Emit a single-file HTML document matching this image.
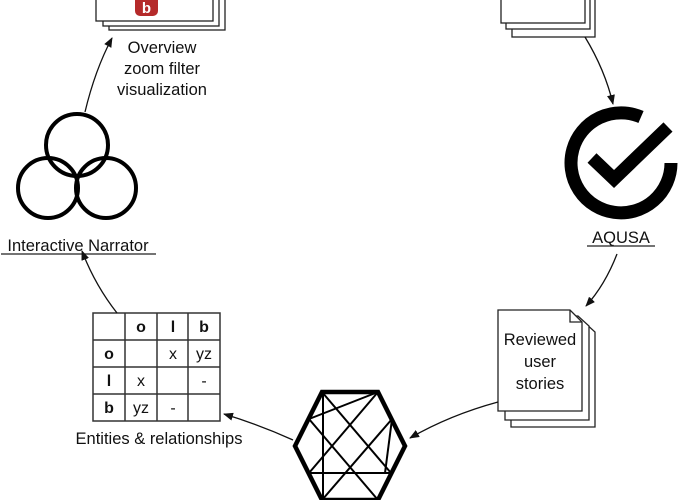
<!DOCTYPE html>
<html><head><meta charset="utf-8"><style>
html,body{margin:0;padding:0;background:#fff;}
svg{display:block;}
text{font-family:"Liberation Sans",sans-serif;fill:#111;}
</style></head><body>
<svg width="680" height="500" viewBox="0 0 680 500" xmlns="http://www.w3.org/2000/svg">
<defs>
<marker id="a" markerWidth="10" markerHeight="8" refX="9" refY="4" orient="auto" markerUnits="userSpaceOnUse">
<path d="M0,0 L10,4 L0,8 Z" fill="#111"/></marker>
</defs>
<g fill="#fff" stroke="#222" stroke-width="1.3">
<rect x="109" y="-10" width="116" height="40"/>
<rect x="103" y="-10" width="116" height="36"/>
<rect x="96" y="-10" width="117" height="31"/>
</g>
<rect x="135" y="-6" width="23" height="22" rx="5" fill="#b52a2a"/>
<text x="146.5" y="13" font-size="15" font-weight="bold" text-anchor="middle" style="fill:#fff">b</text>
<text x="162" y="53" font-size="16.5" text-anchor="middle">Overview</text>
<text x="162" y="74" font-size="16.5" text-anchor="middle">zoom filter</text>
<text x="162" y="95" font-size="16.5" text-anchor="middle">visualization</text>
<g fill="#fff" stroke="#222" stroke-width="1.3">
<rect x="512" y="-10" width="83" height="47"/>
<rect x="506" y="-10" width="84" height="39"/>
<rect x="501" y="-10" width="84" height="33"/>
</g>
<path d="M671,163 A50,50 0 1 1 641,117" fill="none" stroke="#000" stroke-width="13"/>
<path d="M592,158 L614,179 L668,127" fill="none" stroke="#000" stroke-width="13"/>
<text x="621" y="243" font-size="16.5" text-anchor="middle">AQUSA</text>
<line x1="587" y1="246" x2="655" y2="246" stroke="#222" stroke-width="1.2"/>
<g fill="none" stroke="#000" stroke-width="4">
<circle cx="77" cy="145" r="31"/>
<circle cx="48" cy="188" r="30"/>
<circle cx="106" cy="188" r="30"/>
</g>
<text x="78" y="251" font-size="16.5" text-anchor="middle">Interactive Narrator</text>
<line x1="1" y1="254" x2="156" y2="254" stroke="#222" stroke-width="1.2"/>
<g fill="#fff" stroke="#222" stroke-width="1.3">
<path d="M511,322 H584 L595,332 V427 H511 Z"/>
<path d="M505,316 H578 L589,326 V420 H505 Z"/>
<path d="M498,310 H570 L582,322 V411 H498 Z"/>
<path d="M570,310 V322 H582" fill="none"/>
</g>
<text x="540" y="345" font-size="16.5" text-anchor="middle">Reviewed</text>
<text x="540" y="367" font-size="16.5" text-anchor="middle">user</text>
<text x="540" y="389" font-size="16.5" text-anchor="middle">stories</text>
<g stroke="#000" fill="none">
<path d="M322,392 L378,392 L405,446 L378,500 L322,500 L295,446 Z" stroke-width="4.5"/>
<g stroke-width="2">
<line x1="323" y1="392" x2="323" y2="500"/>
<line x1="322" y1="392" x2="391" y2="473"/>
<line x1="378" y1="392" x2="309" y2="473"/>
<line x1="309" y1="419" x2="378" y2="500"/>
<line x1="392" y1="419" x2="322" y2="500"/>
<line x1="309" y1="419" x2="378" y2="392"/>
<line x1="392" y1="419" x2="385" y2="473"/>
<line x1="309" y1="473" x2="391" y2="473"/>
</g></g>
<g stroke="#333" stroke-width="1.5" fill="none">
<rect x="93" y="313" width="127" height="108"/>
<line x1="125" y1="313" x2="125" y2="421"/>
<line x1="157" y1="313" x2="157" y2="421"/>
<line x1="188" y1="313" x2="188" y2="421"/>
<line x1="93" y1="340" x2="220" y2="340"/>
<line x1="93" y1="367" x2="220" y2="367"/>
<line x1="93" y1="394" x2="220" y2="394"/>
</g>
<g font-size="16" text-anchor="middle">
<text x="141" y="332" font-weight="bold">o</text><text x="173" y="332" font-weight="bold">l</text><text x="204" y="332" font-weight="bold">b</text>
<text x="109" y="359" font-weight="bold">o</text><text x="173" y="359">x</text><text x="204" y="359">yz</text>
<text x="109" y="386" font-weight="bold">l</text><text x="141" y="386">x</text><text x="204" y="386">-</text>
<text x="109" y="413" font-weight="bold">b</text><text x="141" y="413">yz</text><text x="173" y="413">-</text>
</g>
<text x="159" y="444" font-size="16.5" text-anchor="middle">Entities &amp; relationships</text>
<g fill="none" stroke="#111" stroke-width="1.3" marker-end="url(#a)">
<path d="M585,37 Q605,70 613,104"/>
<path d="M617,254 Q605,285 586,306"/>
<path d="M498,402 Q450,415 410,438"/>
<path d="M293,440 Q260,425 224,414"/>
<path d="M117,313 Q95,285 82,251"/>
<path d="M85,112 Q95,70 112,38"/>
</g>
</svg>
</body></html>
